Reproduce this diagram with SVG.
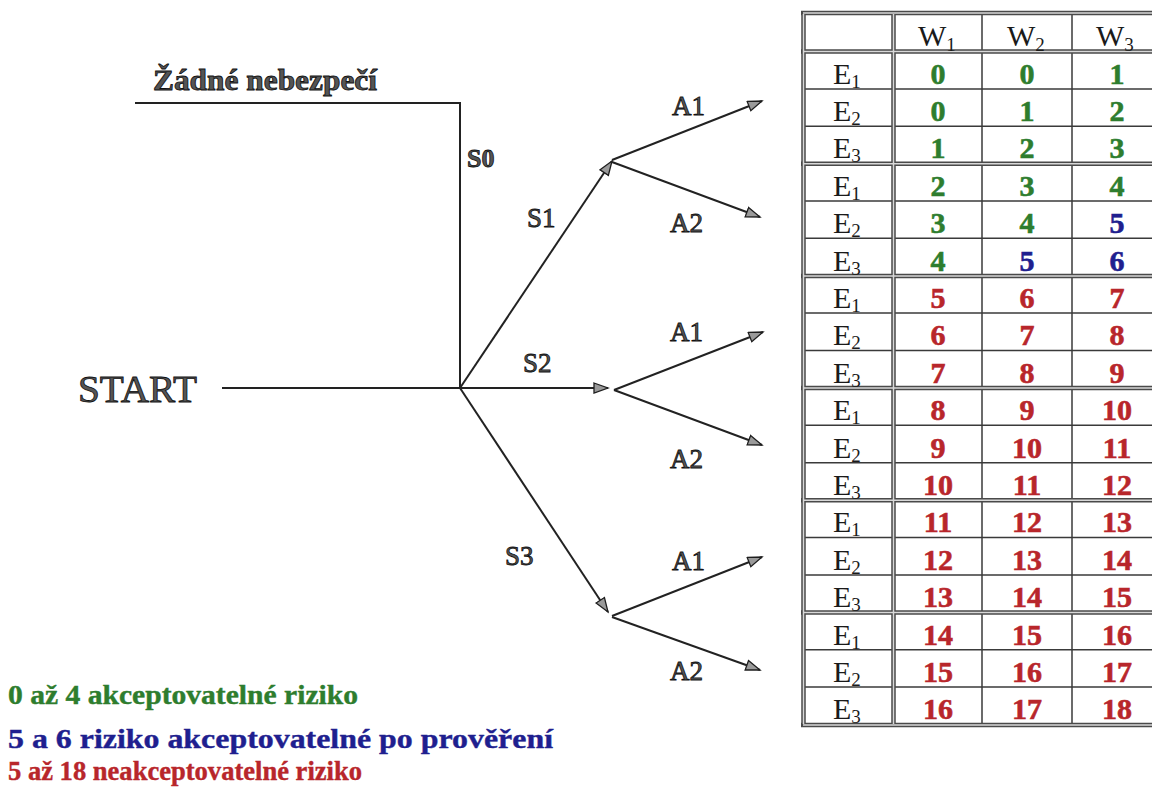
<svg xmlns="http://www.w3.org/2000/svg" width="1152" height="787" viewBox="0 0 1152 787">
  <style>
    .lbl { font-family: "Liberation Serif", "Times New Roman", serif; fill: #555; stroke: #111; stroke-width: 0.8; }
    .lblb { font-weight: bold; }
    .edge { stroke: #222; stroke-width: 2; fill: none; }
    .grid { stroke: #3a3a3a; stroke-width: 1.5; fill: none; }
    .dbl-o { stroke: #4a4a4a; stroke-width: 4.5; fill: none; }
    .dbl-i { stroke: #d8d8d8; stroke-width: 1.5; fill: none; }
    .hdr { font-family: "Liberation Serif", "Times New Roman", serif; font-size: 30px; fill: #1a1a1a; }
    .num { font-family: "Liberation Serif", "Times New Roman", serif; font-size: 30px; font-weight: bold; text-anchor: middle; stroke-width: 0.6; }
    .g { fill: #2e7d2e; stroke: #2e7d2e; }
    .b { fill: #1f1f8f; stroke: #1f1f8f; }
    .r { fill: #b8262b; stroke: #b8262b; }
    .leg { font-family: "Liberation Serif", "Times New Roman", serif; font-size: 27px; font-weight: bold; stroke-width: 0.4; }
  </style>
  <defs>
    <marker id="arr" markerUnits="userSpaceOnUse" markerWidth="18" markerHeight="14" refX="15" refY="6" orient="auto">
      <path d="M1,1 L15,6 L1,11 Z" fill="#9a9a9a" stroke="#1e1e1e" stroke-width="1.3"/>
    </marker>
  </defs>

  <rect width="1152" height="787" fill="#ffffff"/>

  <!-- decision tree connectors -->
  <g id="connectors">
    <line class="edge" x1="222" y1="388" x2="460" y2="388"/>
    <polyline class="edge" points="460,388 460,103 135,103"/>
    <line class="edge" x1="460" y1="388" x2="612" y2="161" marker-end="url(#arr)"/>
    <line class="edge" x1="460" y1="388" x2="608" y2="388" marker-end="url(#arr)"/>
    <line class="edge" x1="460" y1="388" x2="608" y2="612" marker-end="url(#arr)"/>
    <line class="edge" x1="612" y1="160" x2="762" y2="101" marker-end="url(#arr)"/>
    <line class="edge" x1="612" y1="162" x2="760" y2="217" marker-end="url(#arr)"/>
    <line class="edge" x1="614" y1="390" x2="763" y2="332" marker-end="url(#arr)"/>
    <line class="edge" x1="614" y1="390" x2="762" y2="445" marker-end="url(#arr)"/>
    <line class="edge" x1="612" y1="616" x2="762" y2="557" marker-end="url(#arr)"/>
    <line class="edge" x1="612" y1="617" x2="760" y2="670" marker-end="url(#arr)"/>
  </g>

  <g id="start">
    <text class="lbl" x="78" y="402" font-size="37" textLength="119" lengthAdjust="spacingAndGlyphs">START</text>
  </g>
  <g id="no-danger">
    <text class="lbl lblb" x="153" y="90" font-size="29" textLength="224" lengthAdjust="spacingAndGlyphs">Žádné nebezpečí</text>
  </g>
  <g id="s0"><text class="lbl lblb" x="467" y="167" font-size="26">S0</text></g>
  <g id="s1"><text class="lbl" x="527" y="227" font-size="27">S1</text></g>
  <g id="s2"><text class="lbl" x="523" y="372" font-size="27">S2</text></g>
  <g id="s3"><text class="lbl" x="505" y="565" font-size="27">S3</text></g>
  <g id="s1-a1"><text class="lbl" x="672" y="115" font-size="27">A1</text></g>
  <g id="s1-a2"><text class="lbl" x="670" y="232" font-size="27">A2</text></g>
  <g id="s2-a1"><text class="lbl" x="670" y="341" font-size="27">A1</text></g>
  <g id="s2-a2"><text class="lbl" x="670" y="468" font-size="27">A2</text></g>
  <g id="s3-a1"><text class="lbl" x="672" y="570" font-size="27">A1</text></g>
  <g id="s3-a2"><text class="lbl" x="670" y="680" font-size="27">A2</text></g>

  <!-- risk matrix -->
  <g id="matrix">
    <!-- single row rules -->
    <g class="grid">
      <line x1="805" y1="88.9" x2="1152" y2="88.9"/>
      <line x1="805" y1="126.3" x2="1152" y2="126.3"/>
      <line x1="805" y1="200.9" x2="1152" y2="200.9"/>
      <line x1="805" y1="238.3" x2="1152" y2="238.3"/>
      <line x1="805" y1="313.1" x2="1152" y2="313.1"/>
      <line x1="805" y1="350.5" x2="1152" y2="350.5"/>
      <line x1="805" y1="425.3" x2="1152" y2="425.3"/>
      <line x1="805" y1="462.7" x2="1152" y2="462.7"/>
      <line x1="805" y1="537.5" x2="1152" y2="537.5"/>
      <line x1="805" y1="574.9" x2="1152" y2="574.9"/>
      <line x1="805" y1="649.7" x2="1152" y2="649.7"/>
      <line x1="805" y1="687.1" x2="1152" y2="687.1"/>
      <line x1="982" y1="13" x2="982" y2="725"/>
      <line x1="1072" y1="13" x2="1072" y2="725"/>
    </g>
    <!-- double rules -->
    <g class="dbl-o">
      <line x1="801" y1="13" x2="1152" y2="13"/>
      <line x1="801" y1="51.5" x2="1152" y2="51.5"/>
      <line x1="801" y1="163.7" x2="1152" y2="163.7"/>
      <line x1="801" y1="275.9" x2="1152" y2="275.9"/>
      <line x1="801" y1="388.1" x2="1152" y2="388.1"/>
      <line x1="801" y1="500.3" x2="1152" y2="500.3"/>
      <line x1="801" y1="612.5" x2="1152" y2="612.5"/>
      <line x1="801" y1="725" x2="1152" y2="725"/>
      <line x1="803.5" y1="11" x2="803.5" y2="727"/>
      <line x1="893.5" y1="11" x2="893.5" y2="727"/>
    </g>
    <g class="dbl-i">
      <line x1="803" y1="13" x2="1152" y2="13"/>
      <line x1="803" y1="51.5" x2="1152" y2="51.5"/>
      <line x1="803" y1="163.7" x2="1152" y2="163.7"/>
      <line x1="803" y1="275.9" x2="1152" y2="275.9"/>
      <line x1="803" y1="388.1" x2="1152" y2="388.1"/>
      <line x1="803" y1="500.3" x2="1152" y2="500.3"/>
      <line x1="803" y1="612.5" x2="1152" y2="612.5"/>
      <line x1="803" y1="725" x2="1152" y2="725"/>
      <line x1="803.5" y1="14" x2="803.5" y2="724"/>
      <line x1="893.5" y1="14" x2="893.5" y2="724"/>
    </g>

    <!-- column headers -->
    <g class="hdr">
      <text x="918" y="46">W<tspan font-size="19" dy="5">1</tspan></text>
      <text x="1007" y="46">W<tspan font-size="19" dy="5">2</tspan></text>
      <text x="1096" y="46">W<tspan font-size="19" dy="5">3</tspan></text>
    </g>

    <!-- row headers -->
    <g class="hdr">
      <text x="833" y="83.5">E<tspan font-size="19" dy="4">1</tspan></text>
      <text x="833" y="120.9">E<tspan font-size="19" dy="4">2</tspan></text>
      <text x="833" y="158.3">E<tspan font-size="19" dy="4">3</tspan></text>
      <text x="833" y="195.7">E<tspan font-size="19" dy="4">1</tspan></text>
      <text x="833" y="233.1">E<tspan font-size="19" dy="4">2</tspan></text>
      <text x="833" y="270.5">E<tspan font-size="19" dy="4">3</tspan></text>
      <text x="833" y="307.9">E<tspan font-size="19" dy="4">1</tspan></text>
      <text x="833" y="345.3">E<tspan font-size="19" dy="4">2</tspan></text>
      <text x="833" y="382.7">E<tspan font-size="19" dy="4">3</tspan></text>
      <text x="833" y="420.1">E<tspan font-size="19" dy="4">1</tspan></text>
      <text x="833" y="457.5">E<tspan font-size="19" dy="4">2</tspan></text>
      <text x="833" y="494.9">E<tspan font-size="19" dy="4">3</tspan></text>
      <text x="833" y="532.3">E<tspan font-size="19" dy="4">1</tspan></text>
      <text x="833" y="569.7">E<tspan font-size="19" dy="4">2</tspan></text>
      <text x="833" y="607.1">E<tspan font-size="19" dy="4">3</tspan></text>
      <text x="833" y="644.5">E<tspan font-size="19" dy="4">1</tspan></text>
      <text x="833" y="681.9">E<tspan font-size="19" dy="4">2</tspan></text>
      <text x="833" y="719.3">E<tspan font-size="19" dy="4">3</tspan></text>
    </g>

    <!-- risk values -->
    <g class="num">
      <text class="g" x="938" y="83.5">0</text><text class="g" x="1027" y="83.5">0</text><text class="g" x="1117" y="83.5">1</text>
      <text class="g" x="938" y="120.9">0</text><text class="g" x="1027" y="120.9">1</text><text class="g" x="1117" y="120.9">2</text>
      <text class="g" x="938" y="158.3">1</text><text class="g" x="1027" y="158.3">2</text><text class="g" x="1117" y="158.3">3</text>
      <text class="g" x="938" y="195.7">2</text><text class="g" x="1027" y="195.7">3</text><text class="g" x="1117" y="195.7">4</text>
      <text class="g" x="938" y="233.1">3</text><text class="g" x="1027" y="233.1">4</text><text class="b" x="1117" y="233.1">5</text>
      <text class="g" x="938" y="270.5">4</text><text class="b" x="1027" y="270.5">5</text><text class="b" x="1117" y="270.5">6</text>
      <text class="r" x="938" y="307.9">5</text><text class="r" x="1027" y="307.9">6</text><text class="r" x="1117" y="307.9">7</text>
      <text class="r" x="938" y="345.3">6</text><text class="r" x="1027" y="345.3">7</text><text class="r" x="1117" y="345.3">8</text>
      <text class="r" x="938" y="382.7">7</text><text class="r" x="1027" y="382.7">8</text><text class="r" x="1117" y="382.7">9</text>
      <text class="r" x="938" y="420.1">8</text><text class="r" x="1027" y="420.1">9</text><text class="r" x="1117" y="420.1">10</text>
      <text class="r" x="938" y="457.5">9</text><text class="r" x="1027" y="457.5">10</text><text class="r" x="1117" y="457.5">11</text>
      <text class="r" x="938" y="494.9">10</text><text class="r" x="1027" y="494.9">11</text><text class="r" x="1117" y="494.9">12</text>
      <text class="r" x="938" y="532.3">11</text><text class="r" x="1027" y="532.3">12</text><text class="r" x="1117" y="532.3">13</text>
      <text class="r" x="938" y="569.7">12</text><text class="r" x="1027" y="569.7">13</text><text class="r" x="1117" y="569.7">14</text>
      <text class="r" x="938" y="607.1">13</text><text class="r" x="1027" y="607.1">14</text><text class="r" x="1117" y="607.1">15</text>
      <text class="r" x="938" y="644.5">14</text><text class="r" x="1027" y="644.5">15</text><text class="r" x="1117" y="644.5">16</text>
      <text class="r" x="938" y="681.9">15</text><text class="r" x="1027" y="681.9">16</text><text class="r" x="1117" y="681.9">17</text>
      <text class="r" x="938" y="719.3">16</text><text class="r" x="1027" y="719.3">17</text><text class="r" x="1117" y="719.3">18</text>
    </g>
  </g>

  <!-- legend -->
  <g id="legend" class="leg">
    <text class="g" x="8" y="704" textLength="350" lengthAdjust="spacingAndGlyphs">0 až 4 akceptovatelné riziko</text>
    <text class="b" x="8" y="748" textLength="545" lengthAdjust="spacingAndGlyphs">5 a 6 riziko akceptovatelné po prověření</text>
    <text class="r" x="8" y="780" textLength="354" lengthAdjust="spacingAndGlyphs">5 až 18 neakceptovatelné riziko</text>
  </g>
</svg>
